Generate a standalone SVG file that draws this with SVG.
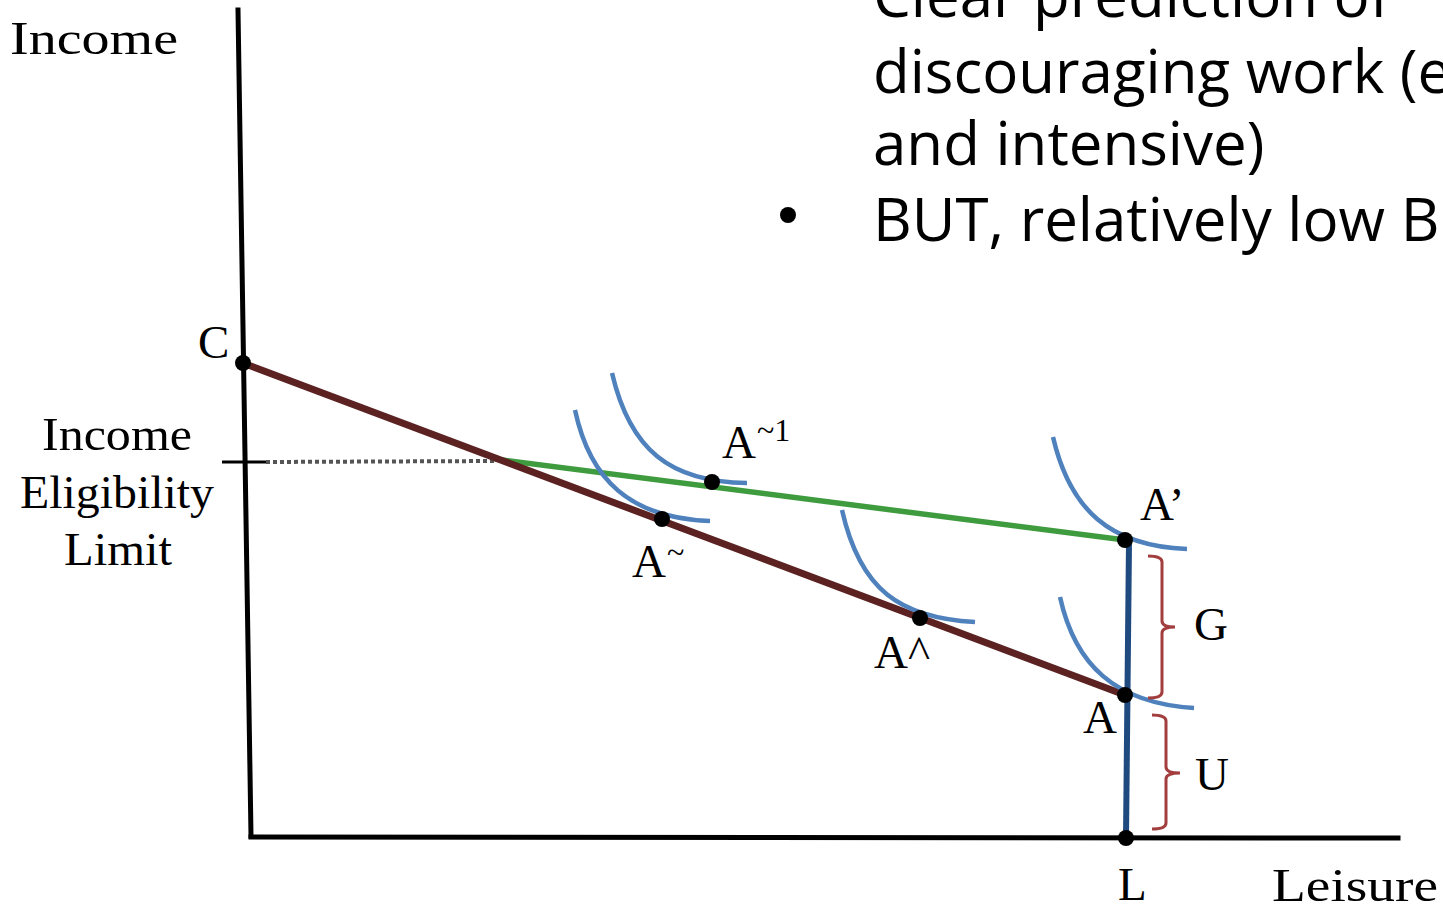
<svg xmlns="http://www.w3.org/2000/svg" width="1443" height="909" viewBox="0 0 1443 909">
<style>
.lbl{font-family:"Liberation Serif","DejaVu Serif",serif;font-size:47px;fill:#000}
.sup{font-family:"Liberation Serif","DejaVu Serif",serif;font-size:32px;fill:#000}
.bul{font-family:"Open Sans","Noto Sans",sans-serif;font-size:60px;fill:#000}
.axis{stroke:#000;stroke-width:5;fill:none;stroke-linecap:square}
.ic{stroke:#4F81BD;stroke-width:4.5;fill:none}
.brace{stroke:#A33E3E;stroke-width:3;fill:none}
.dot{fill:#000}
</style>
<rect width="1443" height="909" fill="#fff"/>
<g id="bullets">
<text class="bul" x="873" y="17">Clear prediction of</text>
<text class="bul" x="873" y="93">discouraging work (extensive</text>
<text class="bul" x="873" y="165">and intensive)</text>
<circle cx="788" cy="215" r="8" class="dot"/>
<text class="bul" x="873" y="241">BUT, relatively low B</text>
</g>
<g id="connectors">
<line class="axis" x1="238" y1="10" x2="251" y2="836"/>
<line class="axis" x1="251" y1="837" x2="1398" y2="838"/>
<line x1="222" y1="462" x2="266" y2="462" stroke="#000" stroke-width="3"/>
<line x1="266" y1="462" x2="495" y2="461" stroke="#555" stroke-width="4" stroke-dasharray="4,3"/>
<line x1="495" y1="459" x2="1125" y2="540" stroke="#3E9B3E" stroke-width="5.5"/>
<line x1="243" y1="363" x2="1125" y2="695" stroke="#5C2222" stroke-width="7"/>
<line x1="1129" y1="542" x2="1126" y2="838" stroke="#1F4A80" stroke-width="6"/>
<path class="ic" d="M575,410 C590,480 630,518 710,521"/>
<path class="ic" d="M612,373 C630,450 670,482 747,483"/>
<path class="ic" d="M842,510 C860,590 900,618 975,622"/>
<path class="ic" d="M1053,437 C1070,510 1110,546 1187,549"/>
<path class="ic" d="M1060,597 C1075,665 1115,703 1194,708"/>
<path class="brace" d="M1148,556 Q1162,556 1162,562 L1162,621 Q1162,627 1175,627 Q1162,627 1162,633 L1162,692 Q1162,698 1148,698"/>
<path class="brace" d="M1152,715 Q1166,715 1166,721 L1166,767 Q1166,773 1180,773 Q1166,773 1166,779 L1166,823 Q1166,829 1152,829"/>
</g>
<g id="node-C"><circle cx="243" cy="363" r="8" class="dot"/><text class="lbl" x="198" y="358">C</text></g>
<g id="node-Atilde1"><circle cx="712" cy="482" r="8" class="dot"/><text class="lbl" x="722" y="458">A</text><text class="sup" x="757" y="441">~1</text></g>
<g id="node-Atilde"><circle cx="662" cy="519" r="8" class="dot"/><text class="lbl" x="632" y="577">A</text><text class="sup" x="667" y="563">~</text></g>
<g id="node-Ahat"><circle cx="920" cy="618" r="8" class="dot"/><text class="lbl" x="874" y="668">A^</text></g>
<g id="node-Aprime"><circle cx="1125" cy="540" r="8" class="dot"/><text class="lbl" x="1140" y="520">A’</text></g>
<g id="node-A"><circle cx="1125" cy="695" r="8" class="dot"/><text class="lbl" x="1083" y="733">A</text></g>
<g id="node-L"><circle cx="1126" cy="838" r="8" class="dot"/><text class="lbl" x="1118" y="900">L</text></g>
<g id="labels">
<text class="lbl" x="10" y="54" textLength="168" lengthAdjust="spacingAndGlyphs">Income</text>
<text class="lbl" x="42" y="450" textLength="150" lengthAdjust="spacingAndGlyphs">Income</text>
<text class="lbl" x="20" y="508" textLength="194" lengthAdjust="spacingAndGlyphs">Eligibility</text>
<text class="lbl" x="64" y="565" textLength="108" lengthAdjust="spacingAndGlyphs">Limit</text>
<text class="lbl" x="1194" y="640">G</text>
<text class="lbl" x="1195" y="790">U</text>
<text class="lbl" x="1272" y="901" textLength="166" lengthAdjust="spacingAndGlyphs">Leisure</text>
</g>
</svg>
